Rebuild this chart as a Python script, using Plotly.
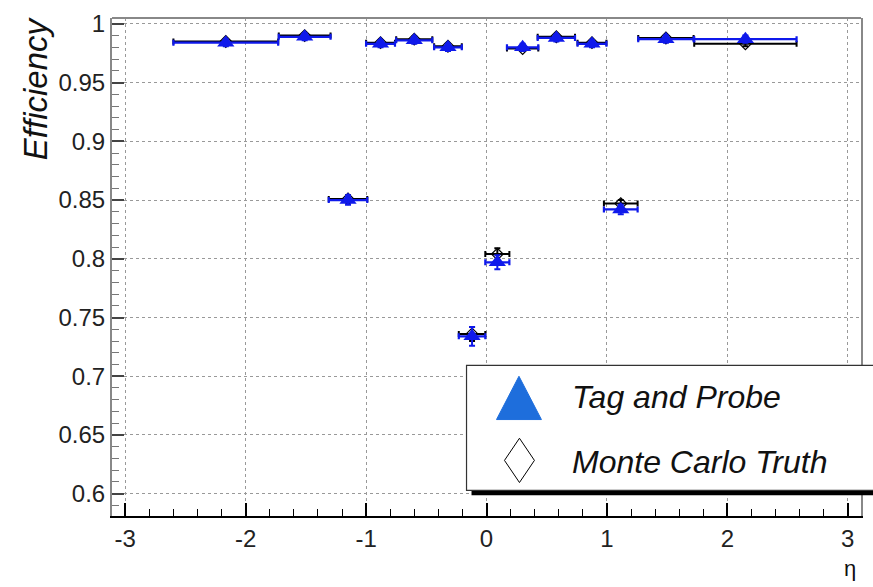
import plotly.graph_objects as go

# ---- data ----
eta = [-2.165, -1.51, -1.15, -0.88, -0.60, -0.32, -0.12, 0.09, 0.30, 0.58, 0.876, 1.115, 1.49, 2.15]
eta_err = [0.435, 0.215, 0.16, 0.12, 0.15, 0.115, 0.11, 0.10, 0.13, 0.155, 0.12, 0.14, 0.23, 0.425]
tp_eff = [0.984, 0.989, 0.850, 0.983, 0.986, 0.980, 0.734, 0.797, 0.980, 0.988, 0.983, 0.842, 0.987, 0.987]
tp_err = [0.003, 0.003, 0.004, 0.003, 0.003, 0.003, 0.008, 0.006, 0.003, 0.003, 0.003, 0.004, 0.003, 0.003]
mc_eff = [0.985, 0.990, 0.851, 0.984, 0.987, 0.981, 0.736, 0.804, 0.979, 0.989, 0.984, 0.847, 0.988, 0.983]
mc_err = [0.002, 0.002, 0.003, 0.002, 0.002, 0.002, 0.006, 0.005, 0.002, 0.002, 0.002, 0.003, 0.002, 0.002]

x_tickvals = [-3, -2, -1, 0, 1, 2, 3]
x_ticktext = ["-3", "-2", "-1", "0", "1", "2", "3"]
y_tickvals = [0.6, 0.65, 0.7, 0.75, 0.8, 0.85, 0.9, 0.95, 1.0]
y_ticktext = ["0.6", "0.65", "0.7", "0.75", "0.8", "0.85", "0.9", "0.95", "1"]

series_names = ["Tag and Probe", "Monte Carlo Truth"]

BLUE = "rgb(15,25,235)"
LEG_BLUE = "rgb(30,110,220)"
FONT = "Liberation Sans, Arial, sans-serif"

fig = go.Figure()

fig.add_trace(go.Scatter(
    x=eta, y=mc_eff, mode="markers", name=series_names[1],
    marker=dict(symbol="diamond-open", size=9, color="black", line=dict(width=1.2, color="black")),
    error_x=dict(type="data", array=eta_err, color="black", thickness=2, width=3),
    error_y=dict(type="data", array=mc_err, color="black", thickness=2, width=3),
    showlegend=False,
))
fig.add_trace(go.Scatter(
    x=eta, y=tp_eff, mode="markers", name=series_names[0],
    marker=dict(symbol="triangle-up", size=15, color=BLUE, line=dict(width=0)),
    error_x=dict(type="data", array=eta_err, color=BLUE, thickness=2.2, width=3),
    error_y=dict(type="data", array=tp_err, color=BLUE, thickness=2, width=3),
    showlegend=False,
))

W, H = 873, 587
L, R, T, B = 112, 11, 10, 71
pw, ph = W - L - R, H - T - B

def px(x):
    return (x - L) / pw

def py(y):
    return (H - B - y) / ph

shapes = []
# top frame line (gray)
shapes.append(dict(type="line", xref="paper", yref="paper", x0=0, x1=1, y0=1, y1=1,
                   line=dict(color="#888", width=2)))
# legend shadow
shapes.append(dict(type="rect", xref="paper", yref="paper",
                   x0=px(472), x1=px(900), y0=py(495), y1=py(370),
                   fillcolor="black", line=dict(width=0)))
# legend box
shapes.append(dict(type="rect", xref="paper", yref="paper",
                   x0=px(467), x1=px(895), y0=py(490), y1=py(363),
                   fillcolor="white", line=dict(color="#333", width=1.2)))
# legend triangle
shapes.append(dict(type="path", xref="paper", yref="paper",
                   path=f"M {px(519.5)},{py(374)} L {px(542)},{py(418)} L {px(497)},{py(418)} Z",
                   fillcolor=LEG_BLUE, line=dict(color=LEG_BLUE, width=1)))
# legend diamond
shapes.append(dict(type="path", xref="paper", yref="paper",
                   path=f"M {px(520)},{py(437)} L {px(535)},{py(459.5)} L {px(520)},{py(482)} L {px(505)},{py(459.5)} Z",
                   fillcolor="rgba(0,0,0,0)", line=dict(color="black", width=1)))

annotations = [
    dict(text="<i>" + series_names[0] + "</i>", xref="paper", yref="paper", x=px(571), y=py(395),
         xanchor="left", yanchor="middle", showarrow=False,
         font=dict(family=FONT, size=32, color="#111")),
    dict(text="<i>" + series_names[1] + "</i>", xref="paper", yref="paper", x=px(571), y=py(461),
         xanchor="left", yanchor="middle", showarrow=False,
         font=dict(family=FONT, size=32, color="#111")),
    dict(text="<i>Efficiency</i>", xref="paper", yref="paper", x=px(35), y=py(6),
         xanchor="center", yanchor="top", textangle=-90, showarrow=False,
         font=dict(family=FONT, size=33, color="#111")),
    dict(text="η", xref="paper", yref="paper", x=px(851), y=py(569),
         xanchor="center", yanchor="middle", showarrow=False,
         font=dict(family=FONT, size=22, color="#111")),
]

fig.update_layout(
    width=W, height=H,
    margin=dict(l=L, r=R, t=T, b=B, pad=0),
    paper_bgcolor="white", plot_bgcolor="white",
    font=dict(family=FONT, color="#222"),
    shapes=shapes, annotations=annotations,
    showlegend=False,
)
fig.update_xaxes(
    range=[-3.11, 3.11], tickvals=x_tickvals, ticktext=x_ticktext,
    showline=True, linecolor="black", linewidth=2, mirror=False,
    ticks="inside", ticklen=13, tickwidth=1.5, tickcolor="black",
    minor=dict(ticks="inside", ticklen=7, dtick=0.2, tickcolor="black", tickwidth=1.2, showgrid=False),
    showgrid=True, gridcolor="#999", griddash="dot", gridwidth=1,
    tickfont=dict(size=24, color="#222"), zeroline=False,
)
fig.update_yaxes(
    range=[0.581, 1.005], tickvals=y_tickvals, ticktext=y_ticktext,
    showline=True, linecolor="#888", linewidth=2, mirror=True,
    ticks="inside", ticklen=12, tickwidth=1.5, tickcolor="#444",
    minor=dict(ticks="inside", ticklen=7, dtick=0.01, tick0=0.6, tickcolor="#777", tickwidth=1, showgrid=False),
    showgrid=True, gridcolor="#999", griddash="dot", gridwidth=1,
    tickfont=dict(size=24, color="#222"), zeroline=False,
)

fig.write_html("out.html")
